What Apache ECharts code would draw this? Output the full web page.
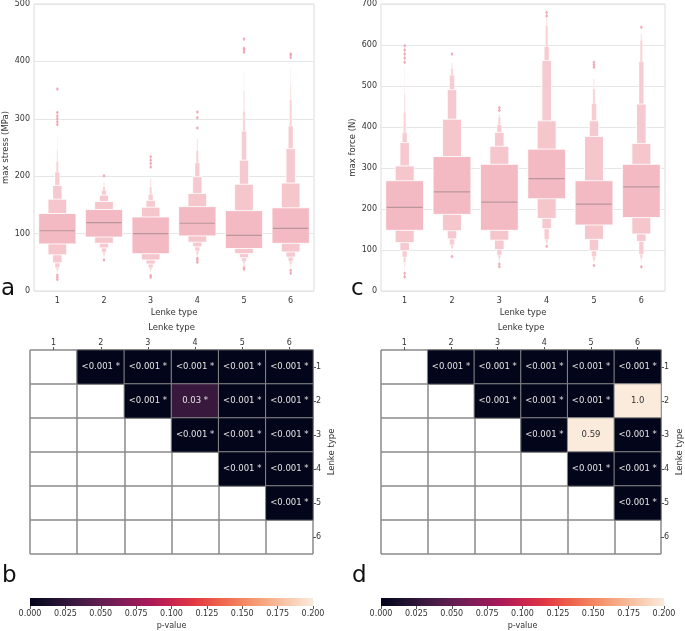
<!DOCTYPE html>
<html>
<head>
<meta charset="utf-8">
<script src="https://cdn.jsdelivr.net/npm/echarts@6/dist/echarts.min.js"></script>
<style>html,body{margin:0;padding:0;background:#fff;}#main{width:685px;height:631px;}</style>
</head>
<body>
<div id="main"></div>
<script>
// ---------- DATA ----------
const categories = ['1', '2', '3', '4', '5', '6'];

// Panel a: max stress (MPa) letter-value boxes, inner -> outer [low, high]
const stressMedian = [105, 119, 100, 118, 97, 109];
const stressLevels1 = [[82, 135], [63, 160], [49, 184], [41, 207], [37, 226], [33, 245], [30, 268]];
const stressLevels2 = [[94, 142], [83, 156], [75, 167], [68, 175], [63, 182], [59, 190]];
const stressLevels3 = [[65, 129], [54, 146], [47, 158], [41, 168], [37, 181], [33, 196]];
const stressLevels4 = [[96, 147], [85, 170], [77, 199], [70, 223], [64, 245], [60, 265]];
const stressLevels5 = [[74, 140], [65, 186], [58, 228], [52, 278], [48, 313], [45, 349], [42, 381]];
const stressLevels6 = [[83, 145], [68, 188], [59, 248], [52, 287], [47, 333], [43, 361], [40, 390]];
const stressOutliers1 = [290, 295, 300, 305, 311, 352, 20, 24, 28];
const stressOutliers2 = [201, 54];
const stressOutliers3 = [216, 222, 228, 234, 24, 27];
const stressOutliers4 = [284, 302, 312, 50, 54, 57];
const stressOutliers5 = [416, 420, 423, 439, 38, 42];
const stressOutliers6 = [407, 411, 413, 31, 36];

// Panel c: max force (N)
const forceMedian = [204, 242, 217, 274, 212, 254];
const forceLevels1 = [[148, 269], [118, 305], [98, 362], [83, 386], [70, 436], [60, 480], [52, 546]];
const forceLevels2 = [[187, 328], [147, 419], [127, 491], [113, 526], [104, 542], [95, 556]];
const forceLevels3 = [[148, 309], [124, 353], [101, 387], [88, 405], [79, 424], [72, 432]];
const forceLevels4 = [[225, 346], [177, 415], [152, 562], [126, 596], [118, 647], [113, 665]];
const forceLevels5 = [[161, 269], [126, 377], [98, 415], [84, 457], [75, 493], [70, 517]];
const forceLevels6 = [[179, 309], [139, 360], [121, 456], [90, 559], [80, 611], [72, 627]];
const forceOutliers1 = [558, 568, 578, 588, 598, 35, 43];
const forceOutliers2 = [578, 84];
const forceOutliers3 = [440, 447, 59, 66];
const forceOutliers4 = [671, 679, 109];
const forceOutliers5 = [546, 552, 558, 62];
const forceOutliers6 = [643, 59];

// Panel b / d: pairwise p-values (row = Lenke type, col = Lenke type), null = empty cell
const stressP = [
  [null, 0, 0, 0, 0, 0],
  [null, null, 0, 0.03, 0, 0],
  [null, null, null, 0, 0, 0],
  [null, null, null, null, 0, 0],
  [null, null, null, null, null, 0],
  [null, null, null, null, null, null]
];
const stressText = [
  ['', '<0.001 *', '<0.001 *', '<0.001 *', '<0.001 *', '<0.001 *'],
  ['', '', '<0.001 *', '0.03 *', '<0.001 *', '<0.001 *'],
  ['', '', '', '<0.001 *', '<0.001 *', '<0.001 *'],
  ['', '', '', '', '<0.001 *', '<0.001 *'],
  ['', '', '', '', '', '<0.001 *'],
  ['', '', '', '', '', '']
];
const forceP = [
  [null, 0, 0, 0, 0, 0],
  [null, null, 0, 0, 0, 1.0],
  [null, null, null, 0, 0.59, 0],
  [null, null, null, null, 0, 0],
  [null, null, null, null, null, 0],
  [null, null, null, null, null, null]
];
const forceText = [
  ['', '<0.001 *', '<0.001 *', '<0.001 *', '<0.001 *', '<0.001 *'],
  ['', '', '<0.001 *', '<0.001 *', '<0.001 *', '1.0'],
  ['', '', '', '<0.001 *', '0.59', '<0.001 *'],
  ['', '', '', '', '<0.001 *', '<0.001 *'],
  ['', '', '', '', '', '<0.001 *'],
  ['', '', '', '', '', '']
];

const pMin = 0, pMax = 0.2, pInterval = 0.025;
const rocketColors = ['#03051a', '#20112f', '#3f1a42', '#611e51', '#841c58', '#a81859', '#c7254e',
  '#e33943', '#ed604c', '#f48660', '#f6aa85', '#f8cbb0', '#faebdd'];

// ---------- STYLE ----------
const FONT = 'DejaVu Sans';
const TXT = '#333';
const levelColors = ['#f4bac3', '#f6c6cd', '#f6c8cf', '#f7cbd1', '#f8d2d7', '#f9dade', '#fbe3e6'];
const outlierColor = '#f0a3b0';
const medianColor = '#b8969b';

const stressLevels = [stressLevels1, stressLevels2, stressLevels3, stressLevels4, stressLevels5, stressLevels6];
const stressOutliers = [stressOutliers1, stressOutliers2, stressOutliers3, stressOutliers4, stressOutliers5, stressOutliers6];
const forceLevels = [forceLevels1, forceLevels2, forceLevels3, forceLevels4, forceLevels5, forceLevels6];
const forceOutliers = [forceOutliers1, forceOutliers2, forceOutliers3, forceOutliers4, forceOutliers5, forceOutliers6];

function levelData(levels) {
  const out = [];
  levels.forEach((lv, ci) => lv.forEach((p, j) => out.push([ci, p[0], p[1], j])));
  out.sort((a, b) => b[3] - a[3]);
  return out;
}
function outlierData(outs) {
  const out = [];
  outs.forEach((arr, ci) => arr.forEach(v => out.push([ci, v])));
  return out;
}
function medianData(meds) { return meds.map((m, ci) => [ci, m]); }

function renderLevel(params, api) {
  const c = api.value(0), lo = api.value(1), hi = api.value(2), lev = api.value(3);
  const pHi = api.coord([c, hi]), pLo = api.coord([c, lo]);
  const band = api.size([1, 0])[0];
  const w = band * 0.8 * Math.pow(0.5, lev);
  return {
    type: 'rect',
    shape: { x: pHi[0] - w / 2, y: pHi[1], width: w, height: pLo[1] - pHi[1] },
    style: { fill: levelColors[Math.min(lev, levelColors.length - 1)], stroke: 'rgba(255,255,255,0.85)', lineWidth: lev < 3 ? 1 : 0.4 }
  };
}
function renderMedian(params, api) {
  const c = api.value(0), m = api.value(1);
  const p = api.coord([c, m]);
  const band = api.size([1, 0])[0];
  const w = band * 0.8;
  return {
    type: 'line',
    shape: { x1: p[0] - w / 2 + 1, y1: p[1], x2: p[0] + w / 2 - 1, y2: p[1] },
    style: { stroke: medianColor, lineWidth: 1.2 }
  };
}
function heatData(P, T) {
  const out = [];
  P.forEach((row, r) => row.forEach((v, c) => {
    if (v === null) return;
    const cv = Math.min(v, pMax);
    out.push({ value: [c, r, cv, T[r][c]], label: { color: cv > 0.1 ? '#333' : '#e4e4e4' } });
  }));
  return out;
}
function renderColorbar(params, api) {
  const a = api.coord([api.value(0), 0]);
  const b = api.coord([api.value(1), 1]);
  const stops = rocketColors.map((c, i) => ({ offset: i / (rocketColors.length - 1), color: c }));
  return {
    type: 'rect',
    shape: { x: a[0], y: b[1], width: b[0] - a[0], height: a[1] - b[1] },
    style: { fill: new echarts.graphic.LinearGradient(0, 0, 1, 0, stops) }
  };
}

const boxGrids = [
  { left: 30, top: 3, width: 284, height: 288 },
  { left: 381, top: 3, width: 284, height: 288 }
];
const heatGrids = [
  { left: 30, top: 350, width: 283, height: 204 },
  { left: 381, top: 350, width: 283, height: 204 }
];
const cbGrids = [
  { left: 30, top: 598, width: 283, height: 13 },
  { left: 381, top: 598, width: 283, height: 13 }
];

const grids = [];
boxGrids.forEach(g => grids.push(Object.assign({ show: true, borderColor: '#dcdcdc', borderWidth: 1, backgroundColor: '#fff' }, g)));
heatGrids.forEach(g => grids.push(Object.assign({ show: false }, g)));
cbGrids.forEach(g => grids.push(Object.assign({ show: false }, g)));

const xAxes = [], yAxes = [];
// boxen axes
[['max stress (MPa)', 500], ['max force (N)', 700]].forEach((d, i) => {
  xAxes.push({
    type: 'category', gridIndex: i, data: categories,
    axisLine: { show: false }, axisTick: { show: false },
    axisLabel: { fontSize: 8, color: TXT, fontFamily: FONT, margin: 6 },
    name: 'Lenke type', nameLocation: 'middle', nameGap: 17,
    nameTextStyle: { fontSize: 8.5, color: TXT, fontFamily: FONT }
  });
  yAxes.push({
    type: 'value', gridIndex: i, min: 0, max: d[1], interval: 100,
    axisLine: { show: false }, axisTick: { show: false },
    axisLabel: { fontSize: 8, color: TXT, fontFamily: FONT, margin: 4 },
    splitLine: { show: true, lineStyle: { color: '#e6e6e6', width: 1 } },
    name: d[0], nameLocation: 'middle', nameGap: 24, nameRotate: 90,
    nameTextStyle: { fontSize: 8.5, color: TXT, fontFamily: FONT }
  });
});
// heatmap axes
[2, 3].forEach(gi => {
  xAxes.push({
    type: 'category', gridIndex: gi, data: categories, position: 'top',
    axisLine: { show: false },
    axisTick: { show: true, alignWithLabel: true, length: 3, lineStyle: { color: '#555' } },
    axisLabel: { fontSize: 8, color: TXT, fontFamily: FONT, margin: 3 },
    splitLine: { show: true, interval: 0, lineStyle: { color: '#8a8a8a', width: 1.5 } },
    name: 'Lenke type', nameLocation: 'middle', nameGap: 18,
    nameTextStyle: { fontSize: 8.5, color: TXT, fontFamily: FONT }
  });
  yAxes.push({
    type: 'category', gridIndex: gi, data: categories, inverse: true, position: 'right',
    axisLine: { show: false },
    axisTick: { show: true, alignWithLabel: true, length: 3, lineStyle: { color: '#555' } },
    axisLabel: { fontSize: 8, color: TXT, fontFamily: FONT, margin: 3 },
    splitLine: { show: true, interval: 0, lineStyle: { color: '#8a8a8a', width: 1.5 } },
    name: 'Lenke type', nameLocation: 'middle', nameGap: 14, nameRotate: 90,
    nameTextStyle: { fontSize: 8.5, color: TXT, fontFamily: FONT }
  });
});
// colorbar axes
[4, 5].forEach(gi => {
  xAxes.push({
    type: 'value', gridIndex: gi, min: pMin, max: pMax, interval: pInterval,
    axisLine: { show: false },
    axisTick: { show: true, length: 3, lineStyle: { color: '#555' } },
    axisLabel: { fontSize: 8, color: TXT, fontFamily: FONT, margin: 4, formatter: v => v.toFixed(3) },
    splitLine: { show: false },
    name: 'p-value', nameLocation: 'middle', nameGap: 16,
    nameTextStyle: { fontSize: 8, color: TXT, fontFamily: FONT }
  });
  yAxes.push({ type: 'value', gridIndex: gi, min: 0, max: 1, show: false });
});

const series = [];
[[stressLevels, stressMedian, stressOutliers], [forceLevels, forceMedian, forceOutliers]].forEach((d, i) => {
  series.push({ type: 'custom', xAxisIndex: i, yAxisIndex: i, renderItem: renderLevel, data: levelData(d[0]), z: 2, silent: true });
  series.push({ type: 'custom', xAxisIndex: i, yAxisIndex: i, renderItem: renderMedian, data: medianData(d[1]), z: 3, silent: true });
  series.push({ type: 'scatter', xAxisIndex: i, yAxisIndex: i, symbol: 'diamond', symbolSize: [3, 4],
    itemStyle: { color: outlierColor, opacity: 0.9 }, data: outlierData(d[2]), z: 1, silent: true });
});
const heatIdx = [];
[[stressP, stressText], [forceP, forceText]].forEach((d, i) => {
  heatIdx.push(series.length);
  series.push({
    type: 'heatmap', xAxisIndex: 2 + i, yAxisIndex: 2 + i, data: heatData(d[0], d[1]),
    itemStyle: { borderColor: '#8a8a8a', borderWidth: 1 },
    label: { show: true, fontSize: 8.5, fontFamily: FONT, formatter: p => p.value[3] },
    emphasis: { disabled: true }, silent: true
  });
});
[4, 5].forEach(gi => {
  series.push({ type: 'custom', xAxisIndex: gi, yAxisIndex: gi, renderItem: renderColorbar, data: [[pMin, pMax]], silent: true });
});

const labelStyle = { fontSize: 23, fontWeight: 'normal', color: '#111', fontFamily: FONT };
const option = {
  backgroundColor: '#fff',
  animation: false,
  title: [
    { text: 'a', left: 1, top: 278, padding: 0, textStyle: labelStyle },
    { text: 'c', left: 351, top: 278, padding: 0, textStyle: labelStyle },
    { text: 'b', left: 2, top: 565, padding: 0, textStyle: labelStyle },
    { text: 'd', left: 352, top: 565, padding: 0, textStyle: labelStyle }
  ],
  grid: grids,
  xAxis: xAxes,
  yAxis: yAxes,
  visualMap: [{
    type: 'continuous', show: false, min: pMin, max: pMax, dimension: 2,
    seriesIndex: heatIdx, inRange: { color: rocketColors }
  }],
  series: series
};

const chart = echarts.init(document.getElementById('main'));
chart.setOption(option);
</script>
</body>
</html>
